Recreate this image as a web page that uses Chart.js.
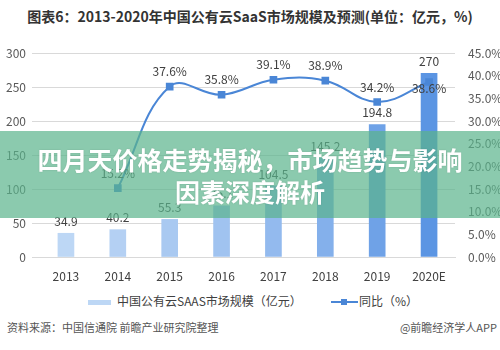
<!DOCTYPE html>
<html><head><meta charset="utf-8">
<script src="https://cdn.jsdelivr.net/npm/chart.js@4.4.0/dist/chart.umd.min.js"></script>
<style>
body{margin:0;width:500px;height:350px;background:#fff;position:relative;overflow:hidden;font-family:"Noto Sans CJK SC","Noto Sans",sans-serif;}
#title{position:absolute;top:6px;left:0;width:500px;text-align:center;font-size:14px;font-weight:bold;color:#333;line-height:20px;}
#wrap{position:absolute;left:0;top:0;width:500px;height:290px;}
.lg{position:absolute;top:0;line-height:18px;white-space:nowrap;}
#sw1{position:absolute;left:88px;top:300px;width:23px;height:5px;background:#bdd7f5;}
#sw2{position:absolute;left:331px;top:301px;width:27px;height:2px;background:#4a86d6;}
#sw2m{position:absolute;left:341px;top:299px;width:6px;height:6px;background:#4a86d6;}
#src{position:absolute;left:7px;top:319px;font-size:11px;color:#555;line-height:16px;white-space:nowrap;}
#app{position:absolute;right:3px;top:319px;font-size:11px;color:#555;line-height:16px;white-space:nowrap;}
#band{position:absolute;left:0;top:131px;width:500px;height:87px;background:rgba(90,180,140,0.7);display:flex;flex-direction:column;align-items:center;justify-content:center;color:#fff;font-weight:bold;font-size:25px;line-height:32px;text-align:center;text-shadow:0 0 2px rgba(0,0,0,0.15);}
</style>
</head><body>
<div id="title">图表6：2013-2020年中国公有云SaaS市场规模及预测(单位：亿元，%)</div>
<div id="wrap"><canvas id="c"></canvas></div>
<div id="sw1"></div><div class="lg" style="left:117px;top:292px;font-size:12px;color:#404040;">中国公有云SAAS市场规模（亿元）</div>
<div id="sw2"></div><div id="sw2m"></div><div class="lg" style="left:359px;top:292px;font-size:12px;color:#404040;">同比（%）</div>
<div id="src">资料来源：中国信通院 前瞻产业研究院整理</div>
<div id="app">@前瞻经济学人APP</div>
<div id="band"><div>四月天价格走势揭秘，市场趋势与影响</div><div>因素深度解析</div></div>
<script>
const categories = ['2013','2014','2015','2016','2017','2018','2019','2020E'];
const marketSize = [34.9, 40.2, 55.3, 75.1, 104.5, 145.2, 194.8, 270];
const growth = [null, 15.2, 37.6, 35.8, 39.1, 38.9, 34.2, 38.6];
const leftTicks = [0, 50, 100, 150, 200, 250, 300];
const rightTicks = [0, 5, 10, 15, 20, 25, 30, 35, 40, 45];

const barColors = ['#bdd7f5','#b4d0f3','#a9c9f1','#a0c3f0','#93baee','#84b0eb','#6fa2e7','#5b95e3'];

const labelPlugin = {
  id: 'labels',
  afterDatasetsDraw(chart) {
    const ctx = chart.ctx;
    ctx.save();
    ctx.font = '12px "Noto Sans CJK SC", sans-serif';
    ctx.fillStyle = '#404040';
    ctx.textAlign = 'center';
    ctx.textBaseline = 'middle';
    const barMeta = chart.getDatasetMeta(0);
    barMeta.data.forEach((el, i) => {
      ctx.fillText(String(marketSize[i]), el.x, el.y - 12);
    });
    const lineMeta = chart.getDatasetMeta(1);
    lineMeta.data.forEach((el, i) => {
      if (growth[i] == null) return;
      const dy = (i === growth.length - 1) ? 6 : -15;
      ctx.fillText(growth[i].toFixed(1) + '%', el.x, el.y + dy);
    });
    ctx.restore();
  }
};

new Chart(document.getElementById('c'), {
  data: {
    labels: categories,
    datasets: [
      {type:'bar', label:'中国公有云SAAS市场规模（亿元）', data: marketSize, backgroundColor: barColors, barThickness: 16, yAxisID:'y', order: 2},
      {type:'line', label:'同比（%）', data: growth, borderColor:'#4a86d6', backgroundColor:'#4a86d6', borderWidth:2, tension:0.4, pointStyle:'rect', pointRadius:4, pointBackgroundColor:'#4a86d6', pointBorderColor:'#4a86d6', yAxisID:'y1', order: 1, spanGaps:false}
    ]
  },
  options: {
    responsive:true, maintainAspectRatio:false, animation:false,
    layout:{padding:{top:53,left:0,right:0,bottom:0}},
    plugins:{legend:{display:false}, tooltip:{enabled:false}},
    scales:{
      x:{grid:{display:false}, border:{color:'#d9d9d9'},
         ticks:{font:{size:12, family:'"Noto Sans CJK SC", sans-serif'}, color:'#404040', padding:4},
         afterFit(s){s.height=33;}},
      y:{position:'left', min:0, max:300,
         afterBuildTicks(s){s.ticks = leftTicks.map(v=>({value:v}));},
         grid:{color:'#d9d9d9'}, border:{display:false},
         ticks:{font:{size:12, family:'"Noto Sans CJK SC", sans-serif'}, color:'#595959', padding:6},
         afterFit(s){s.width=40;}},
      y1:{position:'right', min:0, max:45,
         afterBuildTicks(s){s.ticks = rightTicks.map(v=>({value:v}));},
         grid:{display:false}, border:{display:false},
         ticks:{font:{size:12, family:'"Noto Sans CJK SC", sans-serif'}, color:'#595959', padding:5, callback:v=>v.toFixed(1)+'%'},
         afterFit(s){s.width=45;}}
    }
  },
  plugins:[labelPlugin]
});
</script>
</body></html>
